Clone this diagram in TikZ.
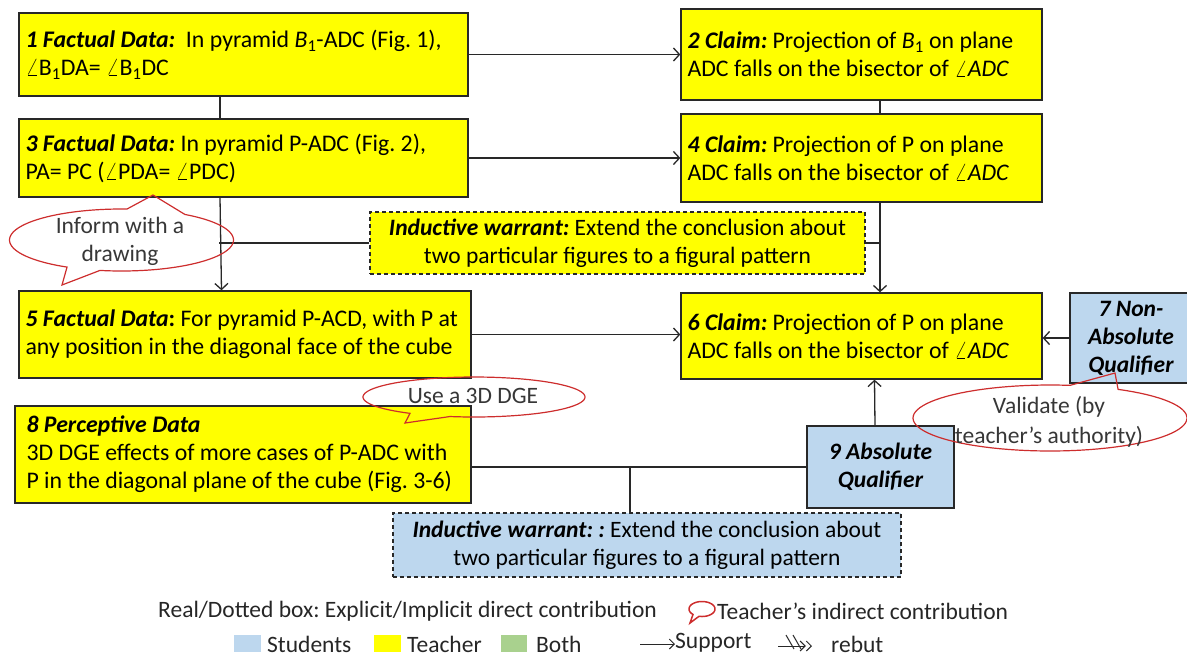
\documentclass[tikz,border=0pt]{standalone}
\usepackage{fontspec}
\setmainfont{Carlito}
\usetikzlibrary{arrows.meta}
\definecolor{byel}{RGB}{255,255,0}
\definecolor{bblue}{RGB}{189,215,238}
\definecolor{bgreen}{RGB}{169,209,142}
\definecolor{cred}{RGB}{205,45,45}
\definecolor{txtg}{RGB}{55,55,55}
\definecolor{edge}{RGB}{40,40,40}
\definecolor{ltxt}{RGB}{38,38,38}
\newcommand{\bi}[1]{\textbf{\textit{#1}}}
\frenchspacing
\begin{document}
\frenchspacing
\begin{tikzpicture}[x=1pt,y=-1pt,
  every node/.style={font=\fontsize{23.5}{28}\selectfont\frenchspacing},
  boxbase/.style={draw=edge, line width=1.3pt, inner xsep=6pt, inner ysep=0pt, font=\fontsize{23.5}{28}\selectfont\frenchspacing},
  ybox/.style={boxbase, fill=byel},
  sbox/.style={boxbase, fill=bblue, align=center, font=\fontsize{23.5}{28}\selectfont\bfseries\itshape},
  wbox/.style={boxbase, dash pattern=on 4pt off 3pt, align=center},
  btext/.style={anchor=west, inner sep=0pt, align=left, font=\fontsize{23.8}{28}\selectfont\frenchspacing},
  conn/.style={draw=edge, line width=1.3pt},
  arr/.style={conn, -{Straight Barb[length=6pt,width=13pt]}},
  bubble/.style={draw=cred, line width=1.2pt},
  btxt/.style={text=txtg, align=center, font=\fontsize{23.5}{28}\selectfont\frenchspacing},
  lgtxt/.style={anchor=west, inner sep=0pt, text=ltxt, font=\fontsize{23.5}{28}\selectfont\frenchspacing},
]
\useasboundingbox (0,0) rectangle (1187,657);

% boxes
\node[ybox, minimum width=449pt, minimum height=83pt] (b1) at (243.5,54.5) {};
\node[btext] (b1t) at ([xshift=7pt]b1.west)
  {\bi{1 Factual Data:}\ \ In pyramid \textit{B}\textsubscript{1}-ADC (Fig. 1),\\ $\angle$B\textsubscript{1}DA= $\angle$B\textsubscript{1}DC};
\node[ybox, minimum width=361pt, minimum height=91pt] (b2) at (861.5,54.5) {};
\node[btext] (b2t) at ([xshift=7pt]b2.west)
  {\bi{2 Claim:} Projection of \textit{B}\textsubscript{1} on plane\\ ADC falls on the bisector of $\angle$\textit{ADC}};
\node[ybox, minimum width=449pt, minimum height=78pt] (b3) at (243.5,158) {};
\node[btext] (b3t) at ([xshift=7pt]b3.west)
  {\bi{3 Factual Data:} In pyramid P-ADC (Fig. 2),\\ PA= PC ($\angle$PDA= $\angle$PDC)};
\node[ybox, minimum width=361pt, minimum height=88pt] (b4) at (861.5,158) {};
\node[btext] (b4t) at ([xshift=7pt]b4.west)
  {\bi{4 Claim:} Projection of P on plane\\ ADC falls on the bisector of $\angle$\textit{ADC}};
\node[wbox, fill=byel, minimum width=495pt, minimum height=62pt] (iw1) at (617.5,243)
  {\bi{Inductive warrant:} Extend the conclusion about\\ two particular figures to a figural pattern};
\node[ybox, minimum width=452pt, minimum height=87pt] (b5) at (245,334.5) {};
\node[btext] (b5t) at ([xshift=7pt]b5.west)
  {\textbf{\textit{5 Factual Data}:} For pyramid P-ACD, with P at\\ any position in the diagonal face of the cube};
\node[ybox, minimum width=361pt, minimum height=86pt] (b6) at (861.5,336) {};
\node[btext] (b6t) at ([xshift=7pt]b6.west)
  {\bi{6 Claim:} Projection of P on plane\\ ADC falls on the bisector of $\angle$\textit{ADC}};
\node[sbox, minimum width=122pt, minimum height=90pt] (b7) at (1131,338)
  {7 Non-\\ Absolute\\ Qualifier};
\node[ybox, minimum width=456pt, minimum height=97pt] (b8) at (243,454.5) {};
\node[btext] (b8t) at ([xshift=12pt]b8.west)
  {\bi{8 Perceptive Data}\\ 3D DGE effects of more cases of P-ADC with\\ P in the diagonal plane of the cube (Fig. 3-6)};
\node[sbox, minimum width=147pt, minimum height=82pt] (b9) at (880.5,467)
  {9 Absolute\\ Qualifier};
\node[wbox, fill=bblue, minimum width=508pt, minimum height=64pt] (iw2) at (647,545)
  {\bi{Inductive warrant: :} Extend the conclusion about\\ two particular figures to a figural pattern};

% connectors
\draw[arr] (b1.east) -- (b2.west);
\draw[arr] (b3.east) -- (b4.west);
\draw[conn] ([xshift=-23.5pt]b1.south) -- ([xshift=-23.5pt]b3.north);
\draw[arr] ([xshift=-23.5pt]b3.south) -- ([xshift=-23.5pt]b5.north);
\draw[conn] (iw1.west) -- ++(-150,0);
\draw[conn] ([xshift=18.5pt]b2.south) -- ([xshift=18.5pt]b4.north);
\draw[arr] ([xshift=18.5pt]b4.south) -- ([xshift=18.5pt]b6.north);
\draw[conn] (iw1.east) -- ++(15,0);
\draw[arr] (b5.east) -- (b5.east -| b6.west);
\draw[arr] (b7.west) -- (b7.west -| b6.east);
\draw[arr] ([xshift=-5.5pt]b9.north) -- ([xshift=13pt]b6.south);
\draw[conn] (b9.west -| b8.east) -- (b9.west);
\draw[conn] ([xshift=-17pt]iw2.north) -- ++(0,-46);

% speech bubbles (teacher's indirect contribution)
\draw[bubble] plot[domain=-55.5:101.1,samples=60] ({121.5+112*cos(\x)},{240+31*sin(\x)})
  -- (62,285) -- plot[domain=119.1:272.8,samples=60] ({121.5+112*cos(\x)},{240+31*sin(\x)})
  -- (153,195) -- cycle;
\node[btxt] (t1) at (120,241) {Inform with a\\ drawing};

\draw[bubble] plot[domain=125.2:462.5,samples=90] ({474+111*cos(\x)},{397+20*sin(\x)})
  -- (405,423) -- cycle;
\node[btxt] (t2) at (473,396) {Use a 3D DGE};

\draw[bubble] plot[domain=-60.2:278.4,samples=90] ({1050+137*cos(\x)},{418+33*sin(\x)})
  -- (1115,373) -- cycle;
\node[btxt, font=\fontsize{23.5}{30}\selectfont] (t3) at (1049,422) {Validate (by\\ teacher's authority)};

% legend
\node[lgtxt] (lg1) at (158,611) {Real/Dotted box: Explicit/Implicit direct contribution};
\draw[bubble, line width=1.5pt] plot[domain=133.8:463.3,samples=50] ({702+13*cos(\x)},{609+7.5*sin(\x)})
  -- (690,623) -- cycle;
\node[lgtxt] (lg2) at (717,611) {Teacher’s indirect contribution};
\node[fill=bblue, minimum width=27pt, minimum height=17pt, inner sep=0pt] (sqs) at (247.5,643.5) {};
\node[lgtxt] (lg3) at (267,644) {Students};
\node[fill=byel, minimum width=27pt, minimum height=17pt, inner sep=0pt] (sqt) at (387.5,643.5) {};
\node[lgtxt] (lg4) at (407,644) {Teacher};
\node[fill=bgreen, minimum width=26pt, minimum height=17pt, inner sep=0pt] (sqb) at (514,643.5) {};
\node[lgtxt] (lg5) at (536,644) {Both};
\node[lgtxt] (lg6) at (675,643) {Support};
\draw[conn, line width=1pt, -{Straight Barb[length=5pt,width=10pt]}] ([xshift=-35pt,yshift=-1pt]lg6.west) -- ([yshift=-1pt]lg6.west);
\node[lgtxt] (lg7) at (831,644) {rebut};
\draw[conn, line width=1pt, -{Straight Barb[length=5pt,width=10pt]. Straight Barb[length=5pt,width=10pt]}] ([xshift=-53pt,yshift=-2pt]lg7.west) -- ([xshift=-19pt,yshift=-2pt]lg7.west);
\draw[conn, line width=1pt] (786,635) -- (794,649) (793,635) -- (801,649);
\end{tikzpicture}
\end{document}
